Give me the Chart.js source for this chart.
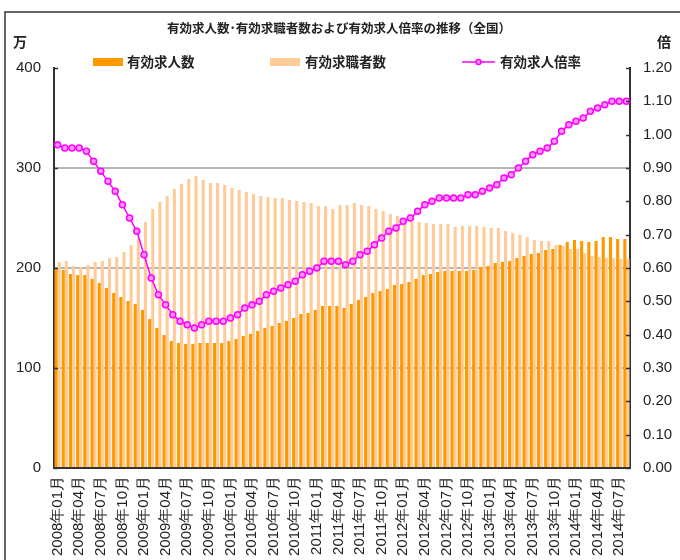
<!DOCTYPE html>
<html>
<head>
<meta charset="utf-8">
<script src="https://cdn.jsdelivr.net/npm/chart.js@4.4.1/dist/chart.umd.min.js"></script>
<style>
  html, body { margin: 0; padding: 0; background: #fff; overflow: hidden; }
  #wrap { position: relative; width: 680px; height: 560px; }
</style>
</head>
<body>
<div id="wrap"><canvas id="c"></canvas></div>
<script>
// ---- data ----
const startYear = 2008;
const monthCount = 80; // 2008年01月 .. 2014年08月
const categories = [];
for (let i = 0; i < monthCount; i++) {
  const y = startYear + Math.floor(i / 12);
  const m = (i % 12) + 1;
  categories.push(y + '年' + (m < 10 ? '0' + m : '' + m) + '月');
}

// 有効求人数 (万人)
const openings = [
  199, 198, 194, 193, 193, 189, 185, 180, 175, 171, 167, 164,
  158, 149, 140, 133, 127, 125, 124, 124, 125, 125, 125, 125,
  127, 129, 132, 134, 137, 140, 142, 145, 147, 150, 154, 155,
  158, 162, 162, 162, 160, 164, 168, 171, 175, 177, 179, 183,
  184, 186, 189, 193, 194, 196, 197, 197, 197, 197, 198, 201,
  202, 205, 206, 207, 210, 212, 214, 215, 218, 219, 223, 226,
  228, 227, 226, 227, 231, 231, 229, 229
];

// 有効求職者数 (万人)
const applicants = [
  206, 207, 202, 201, 203, 206, 207, 210, 211, 216, 223, 230,
  246, 259, 266, 272, 279, 284, 289, 292, 288, 285, 285, 283,
  280, 278, 276, 274, 272, 271, 270, 270, 268, 267, 266, 265,
  262, 262, 259, 263, 263, 265, 263, 262, 259, 257, 254, 252,
  249, 246, 246, 245, 244, 244, 244, 241, 242, 242, 242, 241,
  240, 240, 237, 235, 233, 231, 228, 227, 227, 223, 222, 219,
  219, 215, 212, 211, 210, 210, 209, 209
];

// 有効求人倍率 (倍)
const ratio = [
  0.97, 0.96, 0.96, 0.96, 0.95, 0.92, 0.89, 0.86, 0.83, 0.79, 0.75, 0.71,
  0.64, 0.57, 0.52, 0.49, 0.46, 0.44, 0.43, 0.42, 0.43, 0.44, 0.44, 0.44,
  0.45, 0.46, 0.48, 0.49, 0.50, 0.52, 0.53, 0.54, 0.55, 0.56, 0.58, 0.59,
  0.60, 0.62, 0.62, 0.62, 0.61, 0.62, 0.64, 0.65, 0.67, 0.69, 0.71, 0.72,
  0.74, 0.75, 0.77, 0.79, 0.80, 0.81, 0.81, 0.81, 0.81, 0.82, 0.82, 0.83,
  0.84, 0.85, 0.87, 0.88, 0.90, 0.92, 0.94, 0.95, 0.96, 0.98, 1.01, 1.03,
  1.04, 1.05, 1.07, 1.08, 1.09, 1.10, 1.10, 1.10
];

const leftTicks = [0, 100, 200, 300, 400];
const titleText = '有効求人数･有効求職者数および有効求人倍率の推移（全国）';
const leftUnit = '万';
const rightUnit = '倍';
const seriesNames = ['有効求人数', '有効求職者数', '有効求人倍率'];

// ---- style ----
const DARK = '#ff9900';
const LIGHT = '#ffcc99';
const MAG = '#ff00ff';
const TXT = '#222222';
const NUMFONT = '"Liberation Sans", Arial, sans-serif';
const JPFONT = '"Noto Sans CJK JP", "Noto Sans", sans-serif';

const deco = {
  id: 'deco',
  beforeDraw(chart) {
    const ctx = chart.ctx;
    ctx.save();
    ctx.fillStyle = '#fff';
    ctx.fillRect(0, 0, chart.width, chart.height);
    ctx.strokeStyle = '#333';
    ctx.lineWidth = 1.5;
    ctx.beginPath();
    ctx.moveTo(5, chart.height);
    ctx.lineTo(5, 12);
    ctx.lineTo(chart.width, 12);
    ctx.stroke();
    ctx.restore();
  },
  afterDraw(chart) {
    const ctx = chart.ctx;
    const ca = chart.chartArea;
    ctx.save();
    // title
    ctx.fillStyle = TXT;
    ctx.font = 'bold 12.5px ' + JPFONT;
    ctx.textAlign = 'center';
    ctx.textBaseline = 'middle';
    ctx.fillText(titleText, 339, 28);
    // units
    ctx.font = 'bold 14px ' + JPFONT;
    ctx.fillText(leftUnit, 20, 42);
    ctx.fillText(rightUnit, 664, 42);
    // legend
    const ds = chart.data.datasets;
    const ly = 62;
    ctx.font = 'bold 13.5px ' + JPFONT;
    ctx.textAlign = 'left';
    ctx.fillStyle = ds[0].backgroundColor;
    ctx.fillRect(93, ly - 4, 30, 8);
    ctx.fillStyle = TXT;
    ctx.fillText(ds[0].label, 127, ly);
    ctx.fillStyle = ds[1].backgroundColor;
    ctx.fillRect(270, ly - 4, 30, 8);
    ctx.fillStyle = TXT;
    ctx.fillText(ds[1].label, 305, ly);
    ctx.strokeStyle = ds[2].borderColor;
    ctx.lineWidth = 1.5;
    ctx.beginPath();
    ctx.moveTo(462, ly);
    ctx.lineTo(495, ly);
    ctx.stroke();
    ctx.beginPath();
    ctx.arc(478.5, ly, 2.5, 0, Math.PI * 2);
    ctx.fillStyle = ds[2].pointBackgroundColor;
    ctx.fill();
    ctx.stroke();
    ctx.fillStyle = TXT;
    ctx.fillText(ds[2].label, 500, ly);
    // inward tick marks
    ctx.strokeStyle = '#333';
    ctx.lineWidth = 1.5;
    const ys = chart.scales.y, y1 = chart.scales.y1;
    ys.ticks.forEach(t => {
      const p = Math.round(ys.getPixelForValue(t.value)) + 0.5;
      ctx.beginPath(); ctx.moveTo(ca.left, p); ctx.lineTo(ca.left + 4, p); ctx.stroke();
    });
    y1.ticks.forEach(t => {
      const p = Math.round(y1.getPixelForValue(t.value)) + 0.5;
      ctx.beginPath(); ctx.moveTo(ca.right - 4, p); ctx.lineTo(ca.right, p); ctx.stroke();
    });
    ctx.restore();
  }
};

new Chart(document.getElementById('c'), {
  data: {
    labels: categories,
    datasets: [
      { type: 'bar', label: seriesNames[0], data: openings, yAxisID: 'y',
        backgroundColor: DARK, borderWidth: 0, order: 1,
        categoryPercentage: 0.86, barPercentage: 1.0 },
      { type: 'bar', label: seriesNames[1], data: applicants, yAxisID: 'y',
        backgroundColor: LIGHT, borderWidth: 0, order: 2,
        categoryPercentage: 0.86, barPercentage: 1.0 },
      { type: 'line', label: seriesNames[2], data: ratio, yAxisID: 'y1',
        borderColor: MAG, borderWidth: 1.5, tension: 0, order: 0,
        pointRadius: 3, pointBorderWidth: 1.5,
        pointBackgroundColor: '#ff99ff', pointBorderColor: MAG }
    ]
  },
  options: {
    responsive: true,
    maintainAspectRatio: false,
    animation: false,
    events: [],
    layout: { padding: { top: 68, left: 0, right: 0, bottom: 0 } },
    plugins: { legend: { display: false }, tooltip: { enabled: false }, title: { display: false } },
    scales: {
      x: {
        type: 'category',
        grid: { display: false, drawTicks: false },
        border: { display: true, color: '#333', width: 2 },
        ticks: {
          autoSkip: false, maxRotation: 90, minRotation: 90, padding: 8,
          color: TXT, font: { family: NUMFONT, size: 15 },
          callback: function (v, i) { return i % 3 === 0 ? this.getLabelForValue(v) : ''; }
        },
        afterFit: s => { s.height = 92; }
      },
      y: {
        position: 'left', min: 0, max: 400,
        afterBuildTicks: s => { s.ticks = leftTicks.map(v => ({ value: v })); },
        grid: {
          drawTicks: false, lineWidth: 2,
          color: c => (c.tick && (c.tick.value === 0 || c.tick.value === 400)) ? 'rgba(0,0,0,0)' : '#b5b5b5'
        },
        border: { display: true, color: '#333', width: 2 },
        ticks: { padding: 13, color: TXT, font: { family: NUMFONT, size: 15 } },
        afterFit: s => { s.width = 54; }
      },
      y1: {
        position: 'right', min: 0, max: 1.2,
        grid: { drawOnChartArea: false, drawTicks: false },
        border: { display: true, color: '#333', width: 2 },
        ticks: { stepSize: 0.1, padding: 13, color: TXT, font: { family: NUMFONT, size: 15 },
                 callback: v => Number(v).toFixed(2) },
        afterFit: s => { s.width = 50; }
      }
    }
  },
  plugins: [deco]
});
</script>
</body>
</html>
